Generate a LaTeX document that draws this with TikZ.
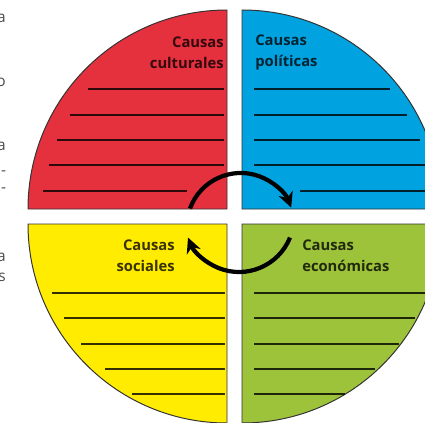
\documentclass[tikz,border=0pt]{standalone}
\usepackage{fontspec}
\setsansfont{Open Sans}
\usetikzlibrary{arrows.meta}
\definecolor{causred}{RGB}{229,48,62}
\definecolor{causblue}{RGB}{0,163,224}
\definecolor{causyellow}{RGB}{255,236,0}
\definecolor{causgreen}{RGB}{157,195,59}

\begin{document}
\begin{tikzpicture}[
    x=0.025cm, y=0.025cm,
    >=Stealth,
    quad/.style={draw=black!80, line width=0.7pt},
    writeline/.style={draw=black, opacity=0.8, line width=1.5pt},
    cause/.style={inner sep=0pt, text=black, text opacity=0.78,
        font=\sffamily\bfseries\fontsize{10.5}{15}\selectfont},
    margintext/.style={inner sep=0pt, anchor=east, text=black!70,
        font=\sffamily\fontsize{11}{13}\selectfont},
    cyclearrow/.style={-{Stealth[length=0.38cm, width=0.37cm]}, line width=3pt, black},
]

%--- Coordinates ---
\def\cx{234.5}      % centre of the cross, x
\def\cy{205.5}      % centre of the cross, y
\def\gap{7.5}       % half-width of the white cross
\def\rad{199}       % radius of each quarter

\useasboundingbox (0,0) rectangle (425,422);
\clip (0,0) rectangle (425,422);

%============================================================
% Cut-off text at the left margin
%============================================================
\node[margintext] (ma) at (6,404) {a};
\node[margintext] (mb) at (6,340) {o};
\node[margintext] (mc) at (6,276) {a};
\node[margintext] (md) at (6.5,249) {-};
\node[margintext] (me) at (6.5,232) {-};
\node[margintext] (mf) at (6,165) {a};
\node[margintext] (mg) at (6,145) {s};

%============================================================
% Quarters
%============================================================
\filldraw[quad, fill=causred]
    (\cx-\gap, \cy+\gap) -- ++(-\rad,0) arc[start angle=180, end angle=90, radius=\rad] -- cycle;
\filldraw[quad, fill=causblue]
    (\cx+\gap, \cy+\gap) -- ++(\rad,0) arc[start angle=0, end angle=90, radius=\rad] -- cycle;
\filldraw[quad, fill=causyellow]
    (\cx-\gap, \cy-\gap) -- ++(-\rad,0) arc[start angle=180, end angle=270, radius=\rad] -- cycle;
\filldraw[quad, fill=causgreen]
    (\cx+\gap, \cy-\gap) -- ++(\rad,0) arc[start angle=0, end angle=-90, radius=\rad] -- cycle;

%============================================================
% Writing lines
%============================================================
% red
\foreach \ly/\lx/\rx in {333/88/224, 307/70/224, 282/57/224, 257/49/224, 231/43/187}
    \draw[writeline] (\lx,\ly) -- (\rx,\ly);
% blue
\foreach \ly/\lx/\rx in {333/254/390, 307/254/407, 282/254/420, 257/254/430, 231/300/430}
    \draw[writeline] (\lx,\ly) -- (\rx,\ly);
% yellow
\foreach \ly/\lx/\rx in {129/52/225, 104/64/225, 78/81/225, 53/105/225, 28/132/225}
    \draw[writeline] (\lx,\ly) -- (\rx,\ly);
% green
\foreach \ly/\lx/\rx in {129/254/428, 104/254/415, 78/254/399, 53/254/375, 28/254/345}
    \draw[writeline] (\lx,\ly) -- (\rx,\ly);

%============================================================
% Labels
%============================================================
\node[cause, anchor=east, align=right] (cult) at (224,369.5) {Causas\\culturales};
\node[cause, anchor=west, align=left]  (poli) at (255,369.5) {Causas\\políticas};
\node[cause, anchor=east, align=right] (soci) at (175,166.5) {Causas\\sociales};
\node[cause, anchor=west, align=left]  (econ) at (302,166.5) {Causas\\económicas};

%============================================================
% Cycle arrows
%============================================================
\coordinate (upstart)  at (190,213.5);
\coordinate (lowstart) at (290,184.4);
\draw[cyclearrow] (upstart) arc[start angle=160, end angle=21, radius=54];
\draw[cyclearrow] (lowstart) arc[start angle=-22, end angle=-158, radius=55];

\end{tikzpicture}
\end{document}
